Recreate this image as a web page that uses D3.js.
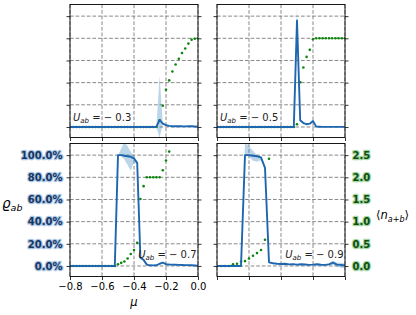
<!DOCTYPE html>
<html>
<head>
<meta charset="utf-8">
<script src="https://cdn.jsdelivr.net/npm/d3@7"></script>
<style>
  body { margin: 0; background: #fff; }
  svg text { font-family: "DejaVu Sans", sans-serif; }
</style>
</head>
<body>
<svg id="chart" width="416" height="315"></svg>
<script>
// chemical potential grids
var muFine = [-0.80,-0.78,-0.76,-0.74,-0.72,-0.70,-0.68,-0.66,-0.64,-0.62,-0.60,-0.58,-0.56,-0.54,-0.52,-0.50,-0.48,-0.46,-0.44,-0.42,-0.40,-0.38,-0.36,-0.34,-0.32,-0.30,-0.28,-0.26,-0.24,-0.22,-0.20,-0.18,-0.16,-0.14,-0.12,-0.10,-0.08,-0.06,-0.04,-0.02,0.00];
var muCoarse = [-0.800,-0.775,-0.750,-0.725,-0.700,-0.675,-0.650,-0.625,-0.600,-0.575,-0.550,-0.525,-0.500,-0.475,-0.450,-0.425,-0.400,-0.375,-0.350,-0.325,-0.300,-0.275,-0.250,-0.225,-0.200,-0.175,-0.150,-0.125,-0.100,-0.075,-0.050,-0.025,0.000];

// U_ab = -0.3
var rhoU03 = [0,0,0,0,0,0,0,0,0,0,0,0,0,0,0,0,0,0,0,0,0,0,0,0,0,0,0,0.003,0.063,0.030,0.016,0.010,0.007,0.006,0.008,0.006,0.005,0.007,0.006,0.004,0.002];
var loU03  = [0,0,0,0,0,0,0,0,0,0,0,0,0,0,0,0,0,0,0,0,0,0,0,0,0,0,0,0.000,-0.100,0.026,0.013,0.008,0.005,0.004,0.006,0.004,0.003,0.005,0.004,0.002,0.000];
var hiU03  = [0,0,0,0,0,0,0,0,0,0,0,0,0,0,0,0,0,0,0,0,0,0,0,0,0,0,0,0.006,0.460,0.034,0.019,0.012,0.009,0.008,0.010,0.008,0.007,0.009,0.008,0.006,0.004];
var nU03   = [0,0,0,0,0,0,0,0,0,0,0,0,0,0,0,0,0,0,0,0,0,0,0,0,0,0,0,0,0.15,0.48,0.84,1.05,1.25,1.41,1.54,1.67,1.77,1.88,1.97,1.99,2.00];

// U_ab = -0.5
var rhoU05 = [0,0,0,0,0,0,0,0,0,0,0,0,0,0,0,0,0,0,0,0,0,0,0,0,0,0.96,0.060,0.035,0.025,0.030,0.054,0.003,0.002,0.001,0.001,0.001,0.001,0.001,0.001,0.001,0.001];
var loU05  = [0,0,0,0,0,0,0,0,0,0,0,0,0,0,0,0,0,0,0,0,0,0,0,0,0,0.90,0.050,0.030,0.021,0.026,0.048,0.001,0.001,0,0,0,0,0,0,0,0];
var hiU05  = [0,0,0,0,0,0,0,0,0,0,0,0,0,0,0,0,0,0,0,0,0,0,0,0,0,1.10,0.070,0.040,0.029,0.034,0.060,0.005,0.003,0.002,0.002,0.002,0.002,0.002,0.002,0.002,0.002];
var nU05   = [0,0,0,0,0,0,0,0,0,0,0,0,0,0,0,0,0,0,0,0,0,0,0,0,0,0.06,1.01,1.34,1.58,1.74,1.98,2.0,2.0,2.0,2.0,2.0,2.0,2.0,2.0,2.0,2.0];

// U_ab = -0.7
var rhoU07 = [0,0,0,0,0,0,0,0,0,0,0,0,0,0,0,1.0,1.0,0.995,0.99,0.985,0.97,0.93,0.075,0.055,0.012,0.006,0.005,0.006,0.020,0.030,0.016,0.013,0.012,0.011,0.010,0.009,0.008,0.008,0.006,0.004,0.002];
var loU07  = [0,0,0,0,0,0,0,0,0,0,0,0,0,0,0,1.0,0.99,0.96,0.91,0.86,0.94,0.92,0.070,0.050,0.010,0.004,0.003,0.004,0.017,0.027,0.013,0.010,0.010,0.009,0.008,0.007,0.006,0.006,0.004,0.002,0.000];
var hiU07  = [0,0,0,0,0,0,0,0,0,0,0,0,0,0,0,1.0,1.06,1.12,1.08,1.03,0.99,0.94,0.080,0.060,0.014,0.008,0.007,0.008,0.023,0.033,0.019,0.016,0.014,0.013,0.012,0.011,0.010,0.010,0.008,0.006,0.004];
var nU07   = [0,0,0,0,0,0,0,0,0,0,0,0,0,0,0,0.04,0.07,0.10,0.17,0.27,0.36,0.52,1.51,1.80,2.0,2.0,2.0,2.0,2.0,2.16,2.38,2.58,null,null,null,null,null,null,null,null,null];

// U_ab = -0.9
var rhoU09 = [0,0,0,0,0,0,0,1.0,1.0,0.995,0.99,0.98,0.885,0.033,0.025,0.020,0.018,0.020,0.014,0.017,0.012,0.015,0.013,0.010,0.012,0.015,0.011,0.010,0.014,0.030,0.012,0.010,0.005];
var loU09  = [0,0,0,0,0,0,0,1.0,0.985,0.95,0.94,0.955,0.87,0.028,0.021,0.016,0.014,0.016,0.010,0.013,0.008,0.011,0.009,0.006,0.008,0.011,0.007,0.005,0.006,0.010,-0.010,-0.015,-0.020];
var hiU09  = [0,0,0,0,0,0,0,1.12,1.08,1.04,1.0,0.985,0.90,0.038,0.029,0.024,0.022,0.024,0.018,0.021,0.016,0.019,0.017,0.014,0.016,0.019,0.015,0.015,0.022,0.050,0.030,0.030,0.020];
var nU09   = [0,0,0,0,0.04,0.05,0.10,0.11,0.17,0.23,0.29,0.36,0.59,2.42,null,null,null,null,null,null,null,null,null,null,null,null,null,null,null,null,null,null,null];

var xTicks = [-0.8,-0.6,-0.4,-0.2,0.0];
var rhoTicks = [0,0.2,0.4,0.6,0.8,1.0];
var nTicks = [0,0.5,1.0,1.5,2.0,2.5];

var panels = [
  {U:"0.3", mu:muFine,   rho:rhoU03, lo:loU03, hi:hiU03, n:nU03, col:0, row:0},
  {U:"0.5", mu:muFine,   rho:rhoU05, lo:loU05, hi:hiU05, n:nU05, col:1, row:0},
  {U:"0.7", mu:muFine,   rho:rhoU07, lo:loU07, hi:hiU07, n:nU07, col:0, row:1},
  {U:"0.9", mu:muCoarse, rho:rhoU09, lo:loU09, hi:hiU09, n:nU09, col:1, row:1}
];

var colX = [[70,198],[217,345]];
var rowY = [[137.5,4.5],[276.5,143.5]];
var BLUE = "#1f66b0";
var GREEN = "#0c850c";

var svg = d3.select('#chart');

panels.forEach(function(p, i){
  var x = d3.scaleLinear().domain([-0.8,0]).range(colX[p.col]);
  var y = d3.scaleLinear().domain([-0.095,1.105]).range(rowY[p.row]);
  var y2 = d3.scaleLinear().domain([-0.2375,2.7625]).range(rowY[p.row]);
  var g = svg.append('g');
  var x0 = colX[p.col][0], x1 = colX[p.col][1];
  var yt = rowY[p.row][1], yb = rowY[p.row][0];

  g.append('clipPath').attr('id','clip'+i)
    .append('rect').attr('x',x0).attr('y',yt).attr('width',x1-x0).attr('height',yb-yt);

  // dashed grid
  g.selectAll('.gx').data(xTicks).enter().append('line')
    .attr('x1',d=>x(d)).attr('x2',d=>x(d)).attr('y1',yt).attr('y2',yb)
    .attr('stroke','#7a7a7a').attr('stroke-width',0.9).attr('stroke-dasharray','3.7,1.9');
  g.selectAll('.gy').data(rhoTicks).enter().append('line')
    .attr('x1',x0).attr('x2',x1).attr('y1',d=>y(d)).attr('y2',d=>y(d))
    .attr('stroke','#7a7a7a').attr('stroke-width',0.9).attr('stroke-dasharray','3.7,1.9');

  var data = p.mu.map(function(m,k){ return {mu:m, rho:p.rho[k], lo:p.lo[k], hi:p.hi[k], n:p.n[k]}; });
  var plot = g.append('g').attr('clip-path','url(#clip'+i+')');

  plot.append('path').datum(data)
    .attr('d', d3.area().x(d=>x(d.mu)).y0(d=>y(d.lo)).y1(d=>y(d.hi)))
    .attr('fill','#1f77b4').attr('fill-opacity',0.3);

  plot.selectAll('circle').data(data.filter(d=>d.n!==null)).enter().append('circle')
    .attr('cx',d=>x(d.mu)).attr('cy',d=>y2(d.n)).attr('r',1.3).attr('fill',GREEN);

  plot.append('path').datum(data)
    .attr('d', d3.line().x(d=>x(d.mu)).y(d=>y(d.rho)))
    .attr('fill','none').attr('stroke',BLUE).attr('stroke-width',1.9).attr('stroke-linejoin','round');

  // frame
  g.append('rect').attr('x',x0).attr('y',yt).attr('width',x1-x0).attr('height',yb-yt)
    .attr('fill','none').attr('stroke','#000').attr('stroke-width',0.9);

  // axes
  var showLeft = (p.col===0 && p.row===1), showRight = (p.col===1 && p.row===1);
  var showX = (p.col===0 && p.row===1);
  var ax = g.append('g').attr('transform','translate(0,'+yb+')')
    .call(d3.axisBottom(x).tickValues(xTicks).tickSize(3.5).tickPadding(3)
      .tickFormat(showX ? function(d){ return d3.format('.1f')(d).replace('-','\u2212'); } : ''));
  var al = g.append('g').attr('transform','translate('+x0+',0)')
    .call(d3.axisLeft(y).tickValues(rhoTicks).tickSize(3.5).tickPadding(4)
      .tickFormat(showLeft ? function(d){ return d3.format('.1%')(d); } : ''));
  var ar = g.append('g').attr('transform','translate('+x1+',0)')
    .call(d3.axisRight(y2).tickValues(nTicks).tickSize(3.5).tickPadding(4)
      .tickFormat(showRight ? d3.format('.1f') : ''));
  [ax,al,ar].forEach(function(a){
    a.select('.domain').remove();
    a.selectAll('.tick line').attr('stroke','#000').attr('stroke-width',0.8);
    a.selectAll('text').attr('font-family','"DejaVu Sans", sans-serif').attr('font-size',10).attr('fill','#000');
  });
  al.selectAll('text').attr('font-weight','bold').attr('fill','#16365f')
    .attr('stroke','#a9c5e6').attr('stroke-width',2.4).attr('paint-order','stroke').attr('stroke-linejoin','round');
  ar.selectAll('text').attr('font-weight','bold').attr('fill','#0d4d0d')
    .attr('stroke','#a5d6a5').attr('stroke-width',2.4).attr('paint-order','stroke').attr('stroke-linejoin','round');

  // U_ab annotation
  var t = g.append('text').attr('font-size',10).attr('fill','#222');
  if (p.row===0) {
    t.attr('x', x0+3).attr('y', yb-16.5).attr('text-anchor','start');
  } else {
    t.attr('x', x1-1.5).attr('y', yb-19).attr('text-anchor','end');
  }
  t.append('tspan').attr('font-style','italic').text('U');
  t.append('tspan').attr('font-style','italic').attr('font-size',7).attr('dy',2).text('ab');
  t.append('tspan').attr('dy',-2).text(' = \u2212 ' + p.U);
});

// axis labels
var yl = svg.append('text').attr('x',2).attr('y',208).attr('font-size',13.5);
yl.append('tspan').attr('font-style','italic').text('\u03F1');
yl.append('tspan').attr('font-style','italic').attr('font-size',9.5).attr('dy',2.5).text('ab');

var rl = svg.append('text').attr('x',376).attr('y',219).attr('font-size',11.5);
rl.append('tspan').text('\u27E8');
rl.append('tspan').attr('font-style','italic').text('n');
rl.append('tspan').attr('font-size',8).attr('dy',2.5).attr('font-style','italic').text('a');
rl.append('tspan').attr('font-size',8).text('+');
rl.append('tspan').attr('font-size',8).attr('font-style','italic').text('b');
rl.append('tspan').attr('dy',-2.5).text('\u27E9');

svg.append('text').attr('x',134).attr('y',306).attr('font-size',11.5)
  .attr('text-anchor','middle').attr('font-style','italic').text('\u03BC');
</script>
</body>
</html>
